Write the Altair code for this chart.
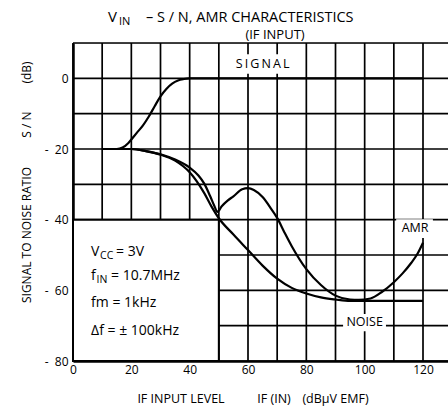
import altair as alt
import pandas as pd

# ---------------- data ----------------
signal_x = [10, 15, 17, 19, 20.5, 22, 24, 26, 28, 30, 32, 34, 36, 38, 40, 44, 120]
signal_y = [-20, -20, -19.6, -18.3, -16.8, -15.3, -13.3, -10.8, -7.9, -5.1, -3.0, -1.5, -0.6, -0.2, 0, 0, 0]

noise_x = [10, 20, 25, 30, 35, 40, 45, 47.5, 50, 55, 60, 65, 70, 75, 80, 85, 90, 95, 120]
noise_y = [-20, -20, -20.6, -21.6, -23.3, -26.6, -32.5, -36.3, -39.6, -44.2, -48.6, -53, -56.7, -59.3, -60.9, -62, -62.6, -63, -63]

amr_x = [10, 20, 25, 30, 35, 40, 43, 45, 47, 48.5, 49.5, 51, 53, 55, 58, 60, 62, 65, 68, 70,
         72.5, 75, 80, 85, 90, 95, 98, 102, 106, 110, 113, 116, 118, 120]
amr_y = [-20, -20, -20.6, -21.5, -23, -25.3, -27.5, -29.8, -33.3, -36.2, -37.8, -36.2, -34.6, -33.4,
         -31.4, -31.1, -31.6, -33.6, -37, -39.5, -43.6, -47.5, -54, -58.5, -61.5, -62.6, -62.7,
         -62.3, -60.4, -57.7, -55.2, -52.2, -49.8, -46.5]

x_ticks = list(range(0, 130, 10))
y_ticks = list(range(-80, 11, 10))

curve_labels = ["SIGNAL", "AMR", "NOISE"]
legend_lines = ["V", "f", "fm = 1kHz", "\u0394f = \u00b1 100kHz"]

FONT = "Open Sans"
X_MAX = 128.57

# ---------------- tables ----------------
lines_df = pd.concat([
    pd.DataFrame({"x": signal_x, "y": signal_y, "s": "signal"}),
    pd.DataFrame({"x": noise_x, "y": noise_y, "s": "noise"}),
    pd.DataFrame({"x": amr_x, "y": amr_y, "s": "amr"}),
], ignore_index=True)

vgrid_df = pd.DataFrame({"x": x_ticks})
hgrid_df = pd.DataFrame({"y": y_ticks})

# annotation layout (data units)
lab_df = pd.DataFrame({
    "t": ["S\u2009I\u2009G\u2009N\u2009A\u2009L", curve_labels[1], curve_labels[2]],
    "x": [65, 117.3, 100],
    "y": [4, -42.4, -69],
    "bx": [54, 110.8, 92.6], "bx2": [76.5, 123.4, 107.3],
    "by": [1.3, -39.9, -66.7], "by2": [6.8, -45.2, -71.6],
})
box_df = pd.DataFrame({"x": [0], "x2": [50], "y": [-80], "y2": [-40]})

xs = alt.Scale(domain=[0, X_MAX], nice=False, zero=False)
ys = alt.Scale(domain=[-80, 10], nice=False, zero=False)

x_axis = alt.Axis(values=x_ticks, labelExpr="datum.value % 20 == 0 ? datum.value : ''",
                  grid=False, domainColor="black", domainWidth=2.5, ticks=False, labelOverlap=False,
                  labelFont=FONT, labelFontSize=12, labelColor="black", labelPadding=3,
                  labelFlush=False, title=None)
y_axis = alt.Axis(values=y_ticks,
                  labelExpr="(datum.value > 0 || datum.value % 20 != 0) ? '' : (datum.value < 0 ? '-\u00a0\u00a0' + abs(datum.value) : '0')",
                  grid=False, domainColor="black", domainWidth=2.5, ticks=False, labelOverlap=False,
                  labelFont=FONT, labelFontSize=12, labelColor="black", labelPadding=5,
                  labelFlush=False, title=None)

vgrid = alt.Chart(vgrid_df).mark_rule(color="black", strokeWidth=1.7).encode(
    x=alt.X("x:Q", scale=xs, axis=x_axis),
    y=alt.Y(datum=-80, scale=ys, axis=y_axis),
    y2=alt.Y2(datum=10),
)
hgrid = alt.Chart(hgrid_df).mark_rule(color="black", strokeWidth=1.7).encode(
    y=alt.Y("y:Q"),
    x=alt.X(datum=0),
    x2=alt.X2(datum=X_MAX),
)

lines = alt.Chart(lines_df).mark_line(color="black", strokeWidth=2.2, interpolate="monotone").encode(
    x="x:Q", y="y:Q", detail="s:N",
)

box = alt.Chart(box_df).mark_rect(fill="white", stroke="black", strokeWidth=2).encode(
    x="x:Q", x2="x2:Q", y="y:Q", y2="y2:Q")

lab_bg = alt.Chart(lab_df).mark_rect(fill="white").encode(
    x="bx:Q", x2="bx2:Q", y="by:Q", y2="by2:Q")
lab_txt = alt.Chart(lab_df).mark_text(font=FONT, fontSize=12.5, color="black").encode(
    x="x:Q", y="y:Q", text="t:N")

one = pd.DataFrame({"a": [0]})
LX = 6.2


def txt(text, x, y, size, dx=0, dy=0, align="left", data_units=True, angle=0):
    m = alt.Chart(one).mark_text(font=FONT, fontSize=size, color="black", align=align,
                                  baseline="alphabetic" if angle == 0 else "middle",
                                  dx=dx, dy=dy, angle=angle)
    if data_units:
        return m.encode(x=alt.X(datum=x), y=alt.Y(datum=y), text=alt.value(text))
    return m.encode(x=alt.value(x), y=alt.value(y), text=alt.value(text))


legend_txt = [
    txt(legend_lines[0], LX, -50.3, 14),
    txt("CC", LX, -50.3, 10.5, dx=9, dy=3),
    txt("= 3V", LX, -50.3, 14, dx=25),
    txt(legend_lines[1], LX, -57.1, 14),
    txt("IN", LX, -57.1, 10.5, dx=5.5, dy=3),
    txt("= 10.7MHz", LX, -57.1, 14, dx=20),
    txt(legend_lines[2], LX, -64.7, 14),
    txt(legend_lines[3], LX, -72.6, 14),
]

titles = [
    txt("V", 35, -21, 15, data_units=False),
    txt("IN", 46, -18, 11, data_units=False),
    txt("\u2013  S / N,  AMR  CHARACTERISTICS", 73, -21, 14.5, data_units=False),
    txt("(IF  INPUT)", 202, -4, 13, align="center", data_units=False),
    txt("IF INPUT LEVEL", 108, 360, 12.5, align="center", data_units=False),
    txt("IF (IN)", 201, 360, 12.5, align="center", data_units=False),
    txt("(dB\u03bcV EMF)", 262.5, 360, 12.5, align="center", data_units=False),
    txt("SIGNAL TO NOISE RATIO", -46, 192, 12, align="center", data_units=False, angle=270),
    txt("S / N", -46, 81.5, 12, align="center", data_units=False, angle=270),
    txt("(dB)", -46, 29.5, 12, align="center", data_units=False, angle=270),
]

chart = alt.layer(vgrid, hgrid, lines, box, lab_bg, lab_txt, *legend_txt, *titles).properties(
    width=375, height=318,
    autosize=alt.AutoSizeParams(type="none"),
    padding={"left": 73, "top": 43, "right": 0, "bottom": 54},
).configure_view(stroke=None).configure(background="white")

chart.save("out.html", embed_options={"renderer": "svg", "actions": False})
